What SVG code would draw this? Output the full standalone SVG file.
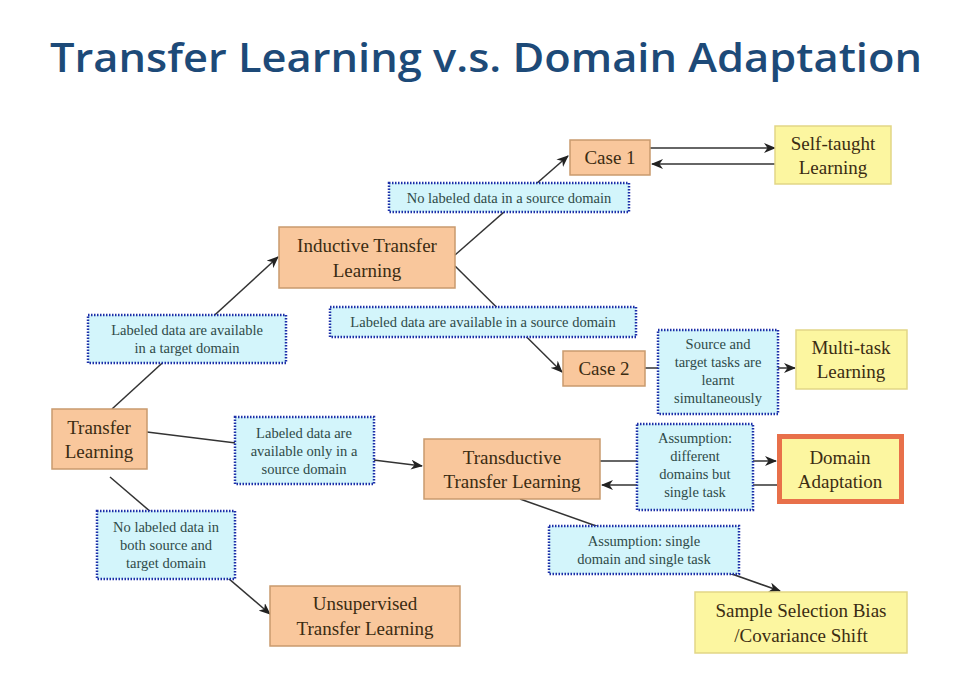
<svg xmlns="http://www.w3.org/2000/svg" width="970" height="686" viewBox="0 0 970 686">
<defs>
<marker id="arr" viewBox="0 0 12 10" refX="11" refY="5" markerWidth="12" markerHeight="10" markerUnits="userSpaceOnUse" orient="auto">
<path d="M0,0 L12,5 L0,10 L3.5,5 z" fill="#222"/>
</marker>
<style>
.t{font-family:"Liberation Serif","Times New Roman",serif;fill:#3b2c12;font-size:19px;text-anchor:middle}
.l{font-family:"Liberation Serif","Times New Roman",serif;fill:#2f4a48;font-size:14.5px;text-anchor:middle}
.o{fill:#f9c79c;stroke:#c99a6e;stroke-width:1.5}
.y{fill:#fcf6a0;stroke:#e2d686;stroke-width:1.5}
.b{fill:#d3f5fb;stroke:#1c2fa8;stroke-width:2.5;stroke-dasharray:1.5 1.5}
.c{stroke:#333;stroke-width:1.5;fill:none}
.a{marker-end:url(#arr)}
</style>
</defs>
<rect width="970" height="686" fill="#fff"/>
<text x="486" y="72" font-family="'Open Sans','DejaVu Sans',sans-serif" font-weight="600" font-size="40" fill="#1d4a78" text-anchor="middle" textLength="872" lengthAdjust="spacingAndGlyphs">Transfer Learning v.s. Domain Adaptation</text>

<g id="connectors">
<line class="c a" x1="112" y1="409" x2="278" y2="257"/>
<line class="c a" x1="455" y1="255" x2="568" y2="156"/>
<line class="c a" x1="455" y1="266" x2="562" y2="372"/>
<line class="c a" x1="650" y1="148" x2="775" y2="148"/>
<line class="c a" x1="775" y1="164" x2="652" y2="164"/>
<line class="c a" x1="645" y1="368" x2="795" y2="368"/>
<line class="c a" x1="147" y1="432" x2="422" y2="466"/>
<line class="c a" x1="600" y1="461" x2="776" y2="461"/>
<line class="c a" x1="777" y1="485" x2="602" y2="485"/>
<line class="c a" x1="520" y1="499" x2="780" y2="591"/>
<line class="c a" x1="110" y1="477" x2="270" y2="614"/>
</g>

<g id="case1"><rect class="o" x="570" y="140" width="80" height="35"/><text class="t" x="610" y="164">Case 1</text></g>
<g id="selftaught"><rect class="y" x="775" y="126" width="116" height="58"/><text class="t" x="833" y="150">Self-taught</text><text class="t" x="833" y="174">Learning</text></g>
<g id="lbl-nolabeled-source"><rect class="b" x="389" y="183" width="240" height="29"/><text class="l" x="509" y="203">No labeled data in a source domain</text></g>
<g id="inductive"><rect class="o" x="279" y="227" width="176" height="61"/><text class="t" x="367" y="252">Inductive Transfer</text><text class="t" x="367" y="277">Learning</text></g>
<g id="lbl-target"><rect class="b" x="88" y="315" width="198" height="48"/><text class="l" x="187" y="335">Labeled data are available</text><text class="l" x="187" y="353">in a target domain</text></g>
<g id="lbl-source"><rect class="b" x="330" y="307" width="306" height="30"/><text class="l" x="483" y="327">Labeled data are available in a source domain</text></g>
<g id="case2"><rect class="o" x="563" y="351" width="82" height="35"/><text class="t" x="604" y="375">Case 2</text></g>
<g id="lbl-simul"><rect class="b" x="658" y="330" width="120" height="84"/><text class="l" x="718" y="349">Source and</text><text class="l" x="718" y="367">target tasks are</text><text class="l" x="718" y="385">learnt</text><text class="l" x="718" y="403">simultaneously</text></g>
<g id="multitask"><rect class="y" x="796" y="330" width="111" height="59"/><text class="t" x="851" y="354">Multi-task</text><text class="t" x="851" y="378">Learning</text></g>
<g id="transfer"><rect class="o" x="52" y="409" width="95" height="60"/><text class="t" x="99" y="434">Transfer</text><text class="t" x="99" y="458">Learning</text></g>
<g id="lbl-only-source"><rect class="b" x="235" y="417" width="139" height="67"/><text class="l" x="304" y="438">Labeled data are</text><text class="l" x="304" y="456">available only in a</text><text class="l" x="304" y="474">source domain</text></g>
<g id="transductive"><rect class="o" x="424" y="439" width="176" height="60"/><text class="t" x="512" y="464">Transductive</text><text class="t" x="512" y="488">Transfer Learning</text></g>
<g id="lbl-diff-domains"><rect class="b" x="637" y="424" width="116" height="86"/><text class="l" x="695" y="443">Assumption:</text><text class="l" x="695" y="461">different</text><text class="l" x="695" y="479">domains but</text><text class="l" x="695" y="497">single task</text></g>
<g id="domainadaptation"><rect x="779.5" y="436.5" width="122" height="65" fill="#fcf6a0" stroke="#e8704a" stroke-width="5"/><text class="t" x="840" y="464">Domain</text><text class="t" x="840" y="488">Adaptation</text></g>
<g id="lbl-both"><rect class="b" x="97" y="511" width="138" height="68"/><text class="l" x="166" y="532">No labeled data in</text><text class="l" x="166" y="550">both source and</text><text class="l" x="166" y="568">target domain</text></g>
<g id="lbl-single"><rect class="b" x="549" y="526" width="190" height="48"/><text class="l" x="644" y="546">Assumption: single</text><text class="l" x="644" y="564">domain and single task</text></g>
<g id="unsupervised"><rect class="o" x="270" y="586" width="190" height="60"/><text class="t" x="365" y="610">Unsupervised</text><text class="t" x="365" y="635">Transfer Learning</text></g>
<g id="sampleselection"><rect class="y" x="695" y="592" width="212" height="61"/><text class="t" x="801" y="617">Sample Selection Bias</text><text class="t" x="801" y="642">/Covariance Shift</text></g>
</svg>
